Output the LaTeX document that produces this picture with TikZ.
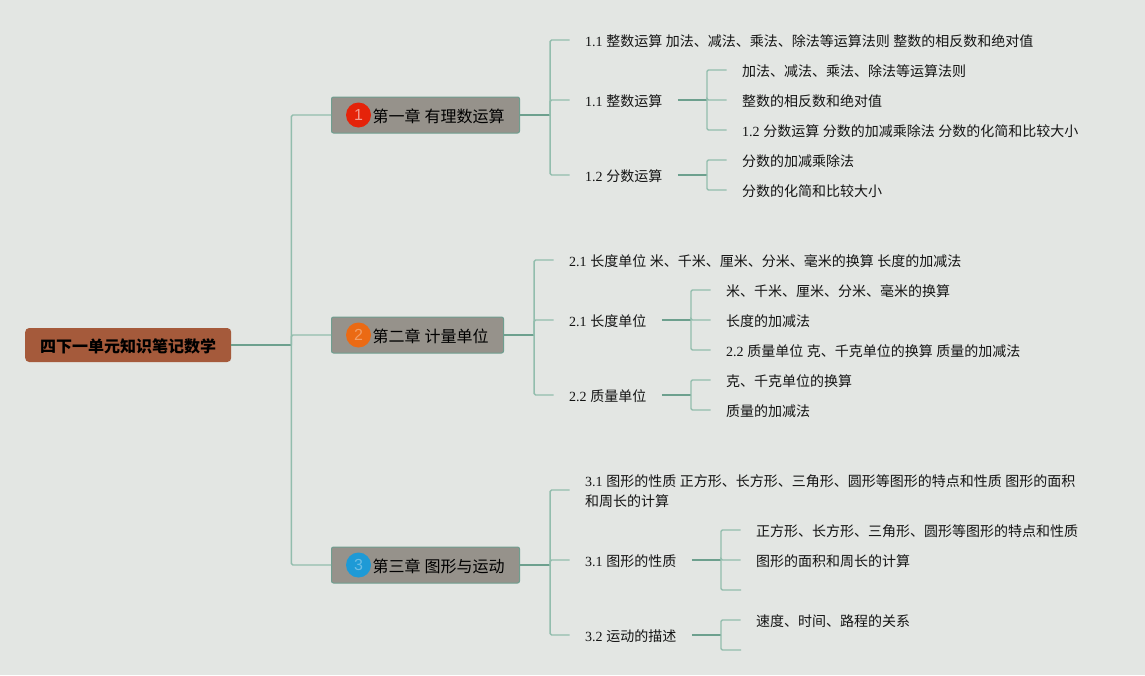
\documentclass[tikz,border=0pt]{standalone}
\usepackage{fontspec}
\setmainfont{Liberation Serif}
\newfontfamily\cjk[WordSpace=1.13]{Noto Sans CJK SC}
\newfontfamily\badgefont{Liberation Sans}
\usetikzlibrary{positioning}
\newcommand{\nm}[1]{{\rmfamily #1}}
\definecolor{pagebg}{HTML}{E3E6E3}
\definecolor{rootfill}{HTML}{A55A3B}
\definecolor{chapfill}{HTML}{96928B}
\definecolor{chapline}{HTML}{6F9E8F}
\definecolor{twig}{HTML}{92BDAD}
\definecolor{limb}{HTML}{6DA08E}
\definecolor{badgeA}{HTML}{E5230A}
\definecolor{badgeB}{HTML}{EB6A14}
\definecolor{badgeC}{HTML}{1E9AD6}
\tikzset{
  basetext/.style={font=\cjk\fontsize{14}{20}\selectfont,text=black!92},
  root node/.style={basetext,font=\cjk\bfseries\fontsize{16}{20}\selectfont,text=black,fill=rootfill,rounded corners=4pt,
    anchor=west,inner xsep=15pt,minimum height=34pt,text height=16pt,text depth=1pt},
  chap node/.style={basetext,font=\cjk\fontsize{16}{20}\selectfont,text=black,fill=chapfill,draw=chapline,line width=1pt,
    rounded corners=2pt,anchor=west,inner xsep=15pt,minimum height=36pt,text height=16.5pt,text depth=1pt},
  badge/.style={circle,minimum size=25pt,inner sep=0pt,anchor=center,font=\badgefont\fontsize{16}{20}\selectfont},
  topic/.style={basetext,anchor=west,inner xsep=15.5pt,text height=14.5pt,text depth=1pt},
  wrapped topic/.style={basetext,anchor=west,inner xsep=15.5pt,align=left},
  twigline/.style={draw=twig,line width=1.4pt,rounded corners=1.5pt},
  limbline/.style={draw=limb,line width=1.8pt},
}
\begin{document}
\begin{tikzpicture}[x=1pt,y=-1pt]
  \fill[pagebg] (0,0) rectangle (1145,675);
  \useasboundingbox (0,0) rectangle (1145,675);

  \node[root node] (root) at (25,345) {四下一单元知识笔记数学};
  \coordinate[right=60pt of root] (froot);

  \node[chap node] (ch1) at (331,115) {\hspace*{26pt}第一章 有理数运算};
  \node[chap node] (ch2) at (331,335) {\hspace*{26pt}第二章 计量单位};
  \node[chap node] (ch3) at (331,565) {\hspace*{26pt}第三章 图形与运动};
  \node[badge,fill=badgeA,text=badgeA!45!white] (b1) at (358.5,115) {1};
  \node[badge,fill=badgeB,text=badgeB!65!white] (b2) at (358.5,335) {2};
  \node[badge,fill=badgeC,text=badgeC!65!white] (b3) at (358.5,565) {3};
  \coordinate[right=30pt of ch1] (f1);
  \coordinate[right=30pt of ch2] (f2);
  \coordinate[right=30pt of ch3] (f3);

  % chapter 1
  \node[topic] (t11) at (569.5,40) {\nm{1.1} 整数运算 加法、减法、乘法、除法等运算法则 整数的相反数和绝对值};
  \node[topic] (t12) at (569.5,100) {\nm{1.1} 整数运算};
  \node[topic] (t13) at (569.5,175) {\nm{1.2} 分数运算};
  \coordinate[right=29pt of t12] (f12);
  \coordinate[right=29pt of t13] (f13);
  \node[topic] (l121) at (726.5,70) {加法、减法、乘法、除法等运算法则};
  \node[topic] (l122) at (726.5,100) {整数的相反数和绝对值};
  \node[topic] (l123) at (726.5,130) {\nm{1.2} 分数运算 分数的加减乘除法 分数的化简和比较大小};
  \node[topic] (l131) at (726.5,160) {分数的加减乘除法};
  \node[topic] (l132) at (726.5,190) {分数的化简和比较大小};

  % chapter 2
  \node[topic] (t21) at (553.5,260) {\nm{2.1} 长度单位 米、千米、厘米、分米、毫米的换算 长度的加减法};
  \node[topic] (t22) at (553.5,320) {\nm{2.1} 长度单位};
  \node[topic] (t23) at (553.5,395) {\nm{2.2} 质量单位};
  \coordinate[right=29pt of t22] (f22);
  \coordinate[right=29pt of t23] (f23);
  \node[topic] (l221) at (710.5,290) {米、千米、厘米、分米、毫米的换算};
  \node[topic] (l222) at (710.5,320) {长度的加减法};
  \node[topic] (l223) at (710.5,350) {\nm{2.2} 质量单位 克、千克单位的换算 质量的加减法};
  \node[topic] (l231) at (710.5,380) {克、千克单位的换算};
  \node[topic] (l232) at (710.5,410) {质量的加减法};

  % chapter 3
  \node[wrapped topic,yshift=-1pt] (t31) at (569.5,490) {\nm{3.1} 图形的性质 正方形、长方形、三角形、圆形等图形的特点和性质 图形的面积\\和周长的计算};
  \node[topic] (t32) at (569.5,560) {\nm{3.1} 图形的性质};
  \node[topic] (t33) at (569.5,635) {\nm{3.2} 运动的描述};
  \coordinate[right=29pt of t32] (f32);
  \coordinate[right=29pt of t33] (f33);
  \node[topic] (l321) at (740.5,530) {正方形、长方形、三角形、圆形等图形的特点和性质};
  \node[topic] (l322) at (740.5,560) {图形的面积和周长的计算};
  \coordinate (l323) at (741,590);
  \node[topic] (l331) at (740.5,620) {速度、时间、路程的关系};
  \coordinate (l332) at (741,650);

  % thick stems
  \draw[limbline] (root) -- (froot);
  \draw[limbline] (ch1) -- (f1);
  \draw[limbline] (ch2) -- (f2);
  \draw[limbline] (ch3) -- (f3);
  \draw[limbline] (t12) -- (f12);
  \draw[limbline] (t13) -- (f13);
  \draw[limbline] (t22) -- (f22);
  \draw[limbline] (t23) -- (f23);
  \draw[limbline] (t32) -- (f32);
  \draw[limbline] (t33) -- (f33);

  % thin branches
  \draw[twigline] (froot) |- (ch1.west);
  \draw[twigline] (froot) |- (ch2.west);
  \draw[twigline] (froot) |- (ch3.west);
  \draw[twigline] (f1) |- (t11.west);
  \draw[twigline] (f1) |- (t12.west);
  \draw[twigline] (f1) |- (t13.west);
  \draw[twigline] (f12) |- (l121.west);
  \draw[twigline] (f12) |- (l122.west);
  \draw[twigline] (f12) |- (l123.west);
  \draw[twigline] (f13) |- (l131.west);
  \draw[twigline] (f13) |- (l132.west);
  \draw[twigline] (f2) |- (t21.west);
  \draw[twigline] (f2) |- (t22.west);
  \draw[twigline] (f2) |- (t23.west);
  \draw[twigline] (f22) |- (l221.west);
  \draw[twigline] (f22) |- (l222.west);
  \draw[twigline] (f22) |- (l223.west);
  \draw[twigline] (f23) |- (l231.west);
  \draw[twigline] (f23) |- (l232.west);
  \draw[twigline] (f3) |- ([yshift=1pt]t31.west);
  \draw[twigline] (f3) |- (t32.west);
  \draw[twigline] (f3) |- (t33.west);
  \draw[twigline] (f32) |- (l321.west);
  \draw[twigline] (f32) |- (l322.west);
  \draw[twigline] (f32) |- (l323);
  \draw[twigline] (f33) |- (l331.west);
  \draw[twigline] (f33) |- (l332);
\end{tikzpicture}
\end{document}
